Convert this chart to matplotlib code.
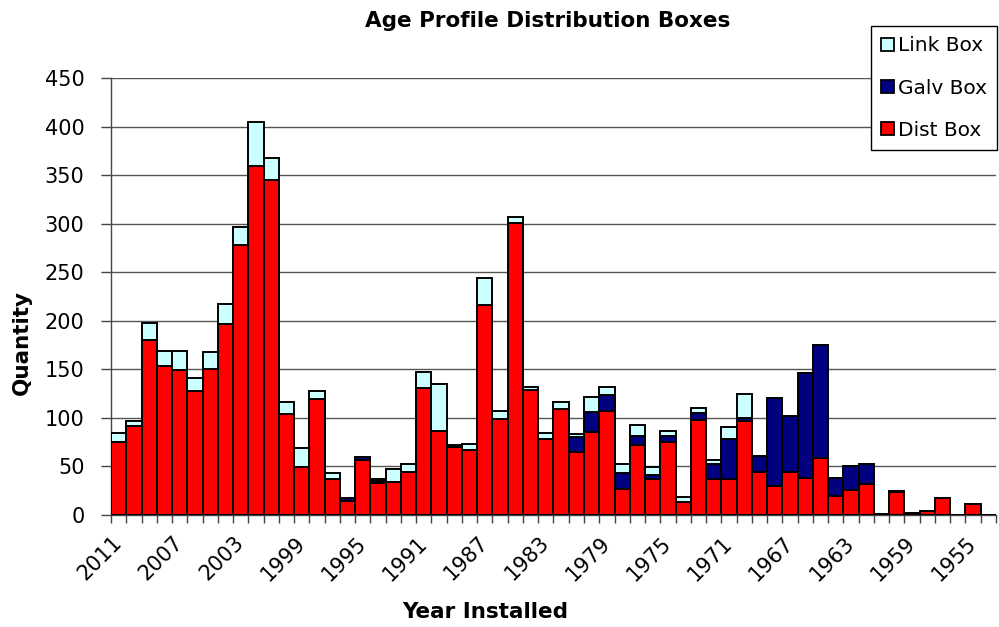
import matplotlib
matplotlib.use("Agg")
import matplotlib.pyplot as plt
from matplotlib.patches import Patch
import numpy as np

plt.rcParams['font.family'] = ['DejaVu Sans']

years = list(range(2011, 1953, -1))

dist_box = [75, 91, 180, 153, 149, 127, 150, 196, 278, 359,
            345, 104, 49, 119, 37, 14, 56, 33, 34, 44,
            131, 86, 70, 67, 216, 99, 301, 128, 78, 109,
            65, 85, 107, 27, 72, 37, 75, 13, 98, 37,
            37, 97, 44, 30, 44, 38, 58, 19, 25, 32,
            1, 23, 2, 4, 17, 0, 11, 0]

galv_box = [0, 0, 0, 0, 0, 0, 0, 0, 0, 0,
            0, 0, 0, 0, 0, 3, 3, 2, 0, 0,
            0, 0, 0, 0, 0, 0, 0, 0, 0, 0,
            15, 21, 16, 16, 9, 4, 6, 0, 7, 15,
            41, 3, 16, 90, 58, 108, 117, 19, 25, 20,
            0, 1, 0, 0, 0, 0, 0, 0]

link_box = [9, 6, 18, 16, 20, 14, 18, 21, 18, 46,
            23, 12, 20, 8, 6, 0, 0, 2, 13, 8,
            16, 49, 2, 6, 28, 8, 6, 4, 6, 7,
            3, 15, 9, 9, 11, 8, 5, 5, 5, 4,
            12, 24, 0, 0, 0, 0, 0, 0, 0, 0,
            0, 0, 0, 0, 0, 0, 0, 0]

c_dist = '#ff0000'
c_galv = '#000080'
c_link = '#ccffff'

fig = plt.figure(figsize=(9.99, 6.27), dpi=100)
ax = fig.add_axes([0.1111, 0.1791, 0.8859, 0.6965])

x = np.arange(len(years))
dist = np.array(dist_box)
galv = np.array(galv_box)
link = np.array(link_box)

kw = dict(width=1.0, edgecolor='black', linewidth=1.4, zorder=3)
ax.bar(x, dist, color=c_dist, **kw)
ax.bar(x, galv, bottom=dist, color=c_galv, **kw)
ax.bar(x, link, bottom=dist + galv, color=c_link, **kw)

ax.set_xlim(-0.5, len(years) - 0.5)
ax.set_ylim(0, 450)
ax.set_yticks(np.arange(0, 451, 50))
ax.yaxis.grid(True, color='#555555', linewidth=1.0, zorder=0)
ax.set_axisbelow(True)

for s in ['top', 'right']:
    ax.spines[s].set_visible(False)
for s in ['left', 'bottom']:
    ax.spines[s].set_color('#444444')
    ax.spines[s].set_linewidth(1.0)

ax.tick_params(axis='y', direction='out', length=7, width=1, color='#444444',
               labelsize=15, pad=12)

# boundary ticks between categories, labels every 4 years at bar centres
ax.set_xticks(np.arange(-0.5, len(years), 1.0))
ax.set_xticklabels([])
ax.tick_params(axis='x', which='major', direction='out', length=6, width=1, color='#444444')
ax.set_xticks(x[::4], minor=True)
ax.set_xticklabels([str(y) for y in years[::4]], minor=True, rotation=45,
                   ha='right', va='center', rotation_mode='anchor', fontsize=15)
ax.tick_params(axis='x', which='minor', length=0, pad=18)

fig.text(0.5485, 0.966, 'Age Profile Distribution Boxes', ha='center', va='center',
         fontsize=15.5, fontweight='bold')
fig.text(0.022, 0.453, 'Quantity', rotation=90, ha='center', va='center',
         fontsize=15.5, fontweight='bold')
fig.text(0.4855, 0.024, 'Year Installed', ha='center', va='center',
         fontsize=15.5, fontweight='bold')

handles = [Patch(facecolor=c_link, edgecolor='black', linewidth=1.3, label='Link Box'),
           Patch(facecolor=c_galv, edgecolor='black', linewidth=1.3, label='Galv Box'),
           Patch(facecolor=c_dist, edgecolor='black', linewidth=1.3, label='Dist Box')]
leg = fig.legend(handles=handles, loc='upper right', bbox_to_anchor=(0.998, 0.958),
                 bbox_transform=fig.transFigure, borderaxespad=0, fancybox=False,
                 fontsize=14.5, handlelength=0.65, handleheight=0.65, handletextpad=0.2,
                 labelspacing=1.15, borderpad=0.5, framealpha=1)
leg.get_frame().set_edgecolor('black')
leg.get_frame().set_linewidth(1.0)

fig.savefig('out.png', dpi=100)
